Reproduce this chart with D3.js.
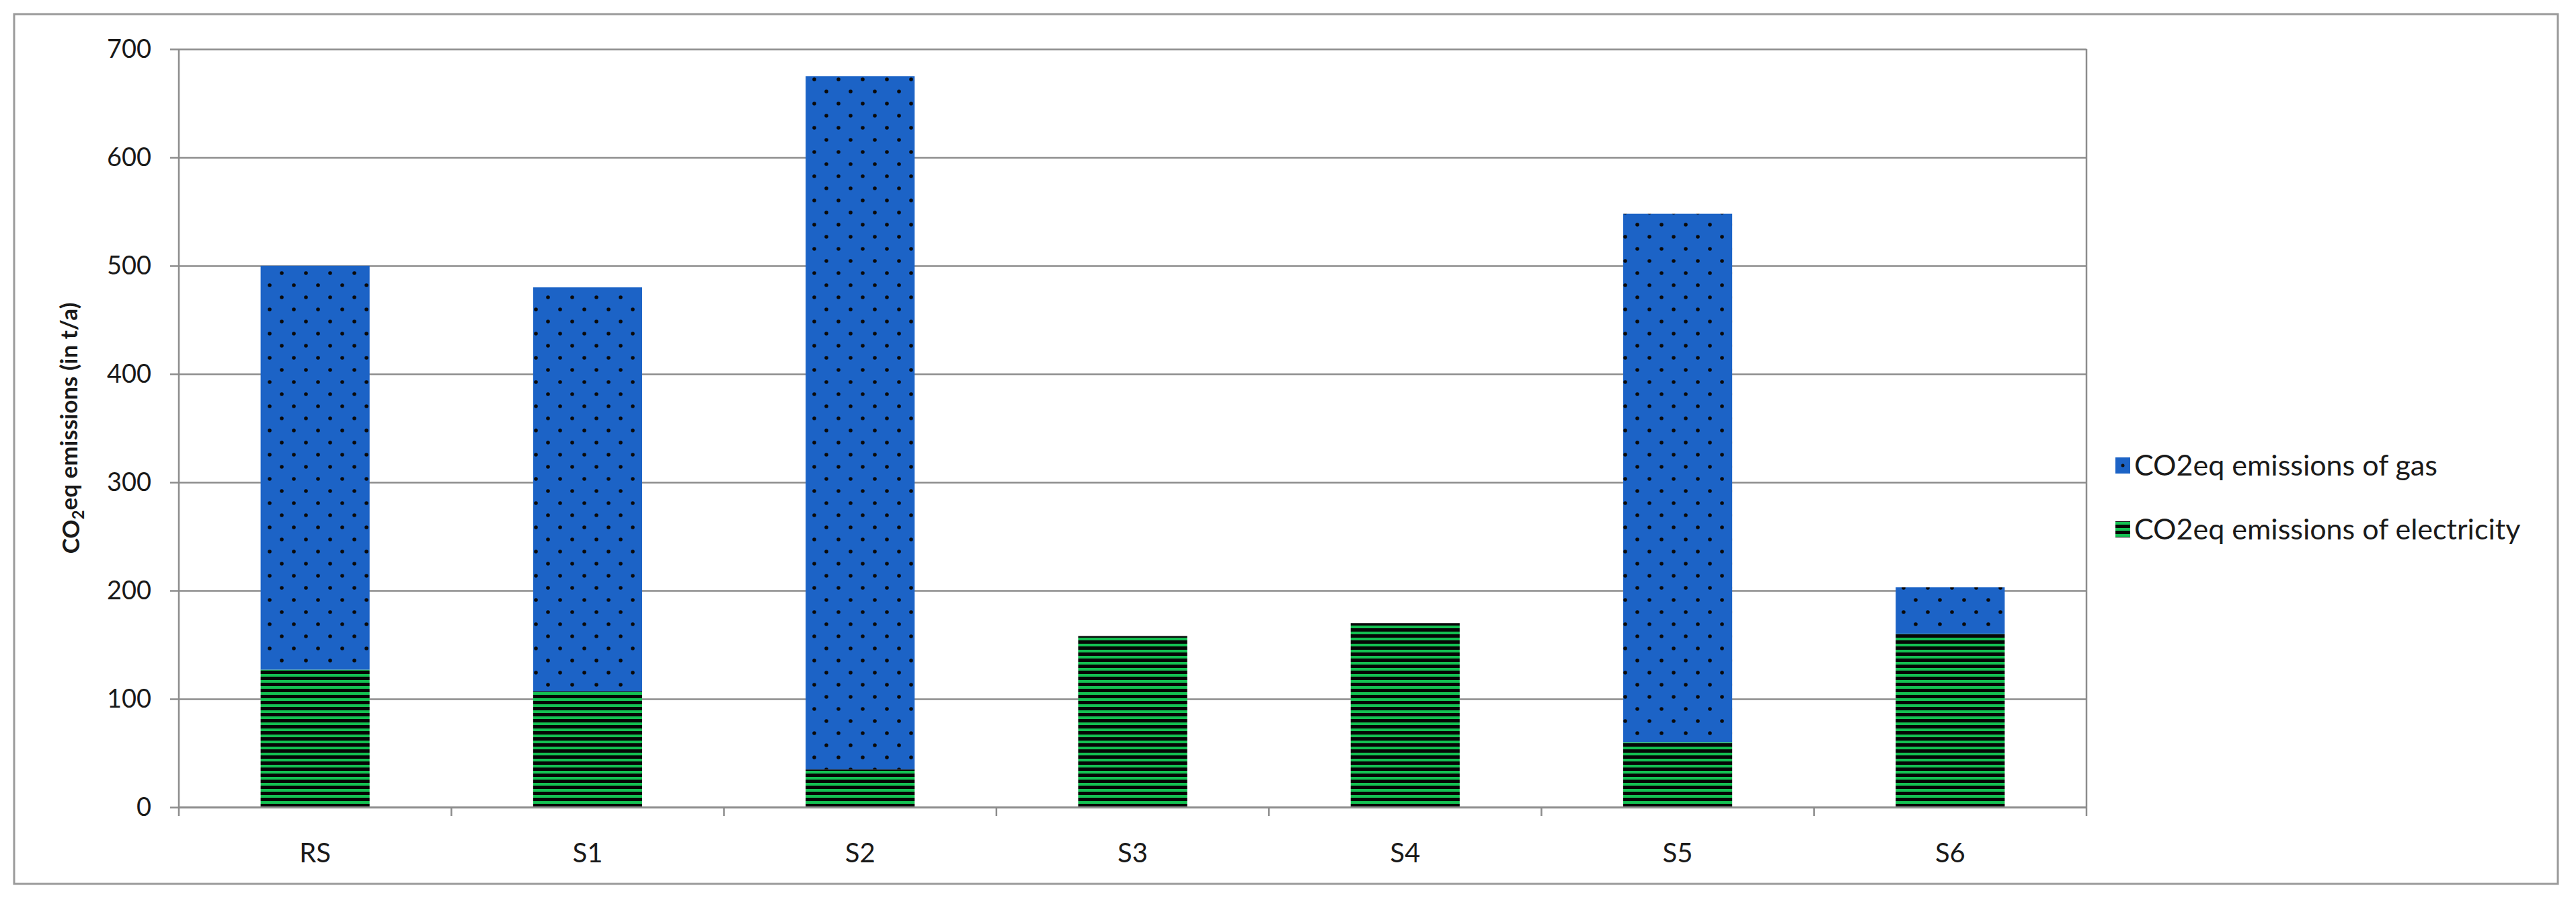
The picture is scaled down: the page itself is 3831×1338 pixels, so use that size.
<!DOCTYPE html>
<html>
<head>
<meta charset="utf-8">
<script src="https://cdn.jsdelivr.net/npm/d3@7"></script>
<style>
  body { margin: 0; background: #fff; }
  text { font-family: Lato, "Open Sans", sans-serif; fill: #1a1a1a; }
</style>
</head>
<body>
<div id="chart"></div>
<script>
// categories and values (t/a)
var scenarios = ["RS", "S1", "S2", "S3", "S4", "S5", "S6"];
var electricity = [127, 107, 35, 158, 170, 60, 160];
var gas = [373, 373, 640, 0, 0, 488, 43];
var yTicks = [0, 100, 200, 300, 400, 500, 600, 700];
var seriesNames = ["CO2eq emissions of gas", "CO2eq emissions of electricity"];

var W = 3831, H = 1338;
var margin = { top: 73, right: 728, bottom: 138, left: 266 };
var width = W - margin.left - margin.right,
    height = H - margin.top - margin.bottom;

var rows = scenarios.map(function(s, i) {
  return { scenario: s, electricity: electricity[i], gas: gas[i] };
});

var svg = d3.select("#chart").append("svg")
    .attr("width", W)
    .attr("height", H);

// patterns for the two series
var defs = svg.append("defs");
var pGas = defs.append("pattern")
    .attr("id", "pat-gas")
    .attr("patternUnits", "userSpaceOnUse")
    .attr("width", 36).attr("height", 36);
pGas.append("rect").attr("width", 36).attr("height", 36).attr("fill", "#1c63c6");
pGas.append("circle").attr("cx", 9).attr("cy", 9).attr("r", 2.8).attr("fill", "#0a0a0a");
pGas.append("circle").attr("cx", 27).attr("cy", 27).attr("r", 2.8).attr("fill", "#0a0a0a");

var pEl = defs.append("pattern")
    .attr("id", "pat-el")
    .attr("patternUnits", "userSpaceOnUse")
    .attr("width", 9).attr("height", 9);
pEl.append("rect").attr("width", 9).attr("height", 9).attr("fill", "#050505");
pEl.append("rect").attr("y", 2).attr("width", 9).attr("height", 4).attr("fill", "#14c152");

// outer frame
svg.append("rect")
    .attr("x", 21).attr("y", 21)
    .attr("width", 3783).attr("height", 1293)
    .attr("fill", "none")
    .attr("stroke", "#9a9a9a")
    .attr("stroke-width", 3);

var g = svg.append("g")
    .attr("transform", "translate(" + margin.left + "," + margin.top + ")");

var x = d3.scaleBand().domain(scenarios).range([0, width])
    .paddingInner(0.6).paddingOuter(0.3);
var y = d3.scaleLinear().domain([0, 700]).range([height, 0]);

// gridlines
g.append("g")
    .call(d3.axisLeft(y).tickValues(yTicks).tickSize(-width).tickFormat(""))
    .call(function(a) {
      a.select(".domain").remove();
      a.selectAll("line").attr("stroke", "#8c8c8c").attr("stroke-width", 2.5);
    });

// right border of plot area
g.append("line")
    .attr("x1", width).attr("x2", width)
    .attr("y1", 0).attr("y2", height)
    .attr("stroke", "#8c8c8c").attr("stroke-width", 2.5);

// stacked bars
var stack = d3.stack().keys(["electricity", "gas"]);
var stacked = stack(rows);
var fills = { electricity: "url(#pat-el)", gas: "url(#pat-gas)" };

g.selectAll("g.series")
    .data(stacked)
    .enter().append("g")
    .attr("class", "series")
    .attr("fill", function(d) { return fills[d.key]; })
    .selectAll("rect")
    .data(function(d) { return d; })
    .enter().append("rect")
    .attr("x", function(d) { return x(d.data.scenario); })
    .attr("y", function(d) { return y(d[1]); })
    .attr("width", x.bandwidth())
    .attr("height", function(d) { return y(d[0]) - y(d[1]); });

// y axis
var yAxis = g.append("g")
    .call(d3.axisLeft(y).tickValues(yTicks).tickSize(13).tickPadding(28));
yAxis.select(".domain").remove();
yAxis.selectAll("line").attr("stroke", "#8c8c8c").attr("stroke-width", 2.5);
yAxis.selectAll("text").style("font-size", "38px").style("font-family", "Lato, sans-serif").attr("fill", "#1a1a1a");
g.append("line")
    .attr("x1", 0).attr("x2", 0).attr("y1", 0).attr("y2", height + 13)
    .attr("stroke", "#8c8c8c").attr("stroke-width", 2.5);

// x axis: ticks on category boundaries
g.append("line")
    .attr("x1", 0).attr("x2", width).attr("y1", height).attr("y2", height)
    .attr("stroke", "#8c8c8c").attr("stroke-width", 2.5);
var step = x.step();
g.selectAll("line.xtick")
    .data(d3.range(1, scenarios.length + 1))
    .enter().append("line")
    .attr("class", "xtick")
    .attr("x1", function(i) { return i * step; })
    .attr("x2", function(i) { return i * step; })
    .attr("y1", height).attr("y2", height + 13)
    .attr("stroke", "#8c8c8c").attr("stroke-width", 2.5);
g.selectAll("text.xlab")
    .data(scenarios)
    .enter().append("text")
    .attr("class", "xlab")
    .attr("x", function(d) { return x(d) + x.bandwidth() / 2; })
    .attr("y", height + 82)
    .attr("text-anchor", "middle")
    .style("font-size", "40px")
    .text(function(d) { return d; });

// y axis title
var yt = svg.append("text")
    .attr("transform", "translate(106," + (margin.top + height / 2) + ") rotate(-90)")
    .attr("text-anchor", "middle")
    .attr("dy", "0.35em")
    .style("font-size", "35px")
    .style("font-weight", "bold");
yt.append("tspan").text("CO");
yt.append("tspan").attr("dy", "0.3em").style("font-size", "24px").text("2");
yt.append("tspan").attr("dy", "-0.3em").text("eq emissions (in t/a)");

// legend
var legend = svg.append("g").attr("transform", "translate(3146,0)");
var legY = [692, 787];
legend.append("rect").attr("x", 0).attr("y", legY[0] - 12).attr("width", 22).attr("height", 24).attr("fill", "#1c63c6");
legend.append("circle").attr("cx", 11).attr("cy", legY[0]).attr("r", 2.5).attr("fill", "#111");
legend.append("rect").attr("x", 0).attr("y", legY[1] - 12).attr("width", 22).attr("height", 24).attr("fill", "url(#pat-el)");
legend.selectAll("text.leg")
    .data(seriesNames)
    .enter().append("text")
    .attr("class", "leg")
    .attr("x", 28)
    .attr("y", function(d, i) { return legY[i]; })
    .attr("dy", "0.35em")
    .style("font-size", "43px")
    .text(function(d) { return d; });
</script>
</body>
</html>
